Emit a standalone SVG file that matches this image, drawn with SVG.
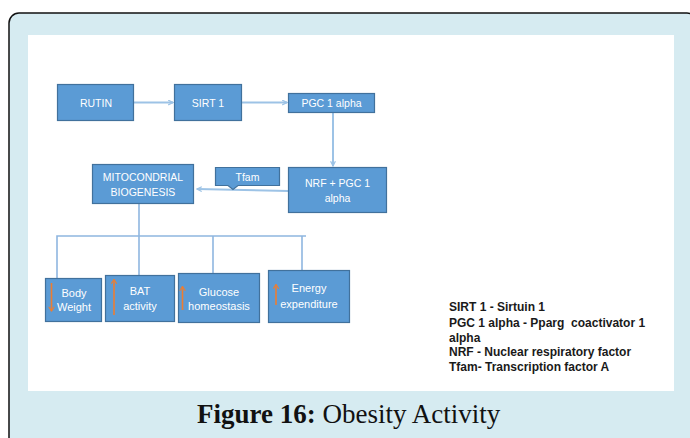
<svg xmlns="http://www.w3.org/2000/svg" width="690" height="438" viewBox="0 0 690 438">
  <defs>
    <style>
      .box { fill: #5b9bd5; stroke: #41719c; stroke-width: 1.2; }
      .lbl { font-family: "Liberation Sans", Arial, sans-serif; font-size: 10.5px; fill: #ffffff; text-anchor: middle; }
      .lbl2 { font-family: "Liberation Sans", Arial, sans-serif; font-size: 11px; fill: #ffffff; text-anchor: middle; }
      .conn { fill: none; stroke: #9dc3e6; stroke-width: 2; }
      .tree { fill: none; stroke: #8fb6e0; stroke-width: 1.6; }
      .trend { stroke: #ed7d31; stroke-width: 1.6; fill: none; }
      .legend { font-family: "Liberation Sans", Arial, sans-serif; font-size: 12px; font-weight: bold; fill: #1a1a1a; }
      .cap { font-family: "Liberation Serif", "Times New Roman", serif; font-size: 27px; fill: #111111; }
    </style>
    <marker id="arrow" viewBox="0 0 10 10" refX="9" refY="5" markerWidth="6" markerHeight="6" orient="auto" markerUnits="userSpaceOnUse">
      <path d="M1,1 L9,5 L1,9" fill="none" stroke="#9dc3e6" stroke-width="2"/>
    </marker>
    <marker id="orange" viewBox="0 0 10 10" refX="9" refY="5" markerWidth="7" markerHeight="7" orient="auto" markerUnits="userSpaceOnUse">
      <path d="M3,1 L9,5 L3,9" fill="none" stroke="#ed7d31" stroke-width="1.6"/>
    </marker>
  </defs>

  <!-- page frame and figure panel -->
  <rect x="9" y="13" width="688" height="440" rx="10" ry="10" fill="#d6ebf1" stroke="#111111" stroke-width="1.5"/>
  <rect x="28" y="35" width="646" height="356" fill="#ffffff"/>

  <!-- connectors -->
  <g id="connectors">
    <line class="conn" x1="134" y1="102.5" x2="173" y2="102.5" marker-end="url(#arrow)"/>
    <line class="conn" x1="242" y1="102.5" x2="287" y2="102.5" marker-end="url(#arrow)"/>
    <line class="conn" x1="333" y1="112" x2="333" y2="166" marker-end="url(#arrow)"/>
    <line class="conn" x1="288" y1="191" x2="197" y2="189" marker-end="url(#arrow)"/>
    <path class="tree" d="M139,203 V275"/>
    <path class="tree" d="M57,278 V236 H306"/>
    <path class="tree" d="M213,236 V273"/>
    <path class="tree" d="M302,236 V270.5"/>
  </g>

  <g id="rutin">
    <rect class="box" x="57.5" y="84.5" width="76" height="36"/>
    <text class="lbl" x="96" y="106.5">RUTIN</text>
  </g>
  <g id="sirt1">
    <rect class="box" x="174.5" y="84.5" width="67" height="36"/>
    <text class="lbl" x="208" y="106.5">SIRT 1</text>
  </g>
  <g id="pgc1alpha">
    <rect class="box" x="288.5" y="93.5" width="86" height="19"/>
    <text class="lbl" x="331.5" y="106.5">PGC 1 alpha</text>
  </g>
  <g id="nrf-pgc1">
    <rect class="box" x="288.5" y="167.5" width="98" height="45"/>
    <text class="lbl" x="337.5" y="187">NRF + PGC 1</text>
    <text class="lbl" x="337.5" y="202">alpha</text>
  </g>
  <g id="tfam">
    <path class="box" d="M215.5,167.5 H279.5 V185.5 H238 L233,189.5 L228,185.5 H215.5 Z"/>
    <text class="lbl" x="247.5" y="181">Tfam</text>
  </g>
  <g id="mito-biogenesis">
    <rect class="box" x="92.5" y="164.5" width="101" height="39"/>
    <text class="lbl" x="143" y="180.5">MITOCONDRIAL</text>
    <text class="lbl" x="143" y="196">BIOGENESIS</text>
  </g>

  <g id="body-weight">
    <rect class="box" x="45.5" y="278.5" width="56" height="43"/>
    <line class="trend" x1="51.5" y1="283" x2="51.5" y2="311" marker-end="url(#orange)"/>
    <text class="lbl2" x="74" y="296.5">Body</text>
    <text class="lbl2" x="74" y="310.5">Weight</text>
  </g>
  <g id="bat-activity">
    <rect class="box" x="105.5" y="275.5" width="69" height="46"/>
    <line class="trend" x1="114" y1="315" x2="114" y2="279.5" marker-end="url(#orange)"/>
    <text class="lbl2" x="140" y="294.5">BAT</text>
    <text class="lbl2" x="140" y="309.5">activity</text>
  </g>
  <g id="glucose-homeostasis">
    <rect class="box" x="178.5" y="273.5" width="81" height="49"/>
    <line class="trend" x1="182.5" y1="310" x2="182.5" y2="286.5" marker-end="url(#orange)"/>
    <text class="lbl2" x="219" y="295.5">Glucose</text>
    <text class="lbl2" x="219" y="310">homeostasis</text>
  </g>
  <g id="energy-expenditure">
    <rect class="box" x="268.5" y="270.5" width="81" height="52"/>
    <line class="trend" x1="276" y1="305" x2="276" y2="284.5" marker-end="url(#orange)"/>
    <text class="lbl2" x="309" y="292">Energy</text>
    <text class="lbl2" x="309" y="308">expenditure</text>
  </g>

  <!-- abbreviations -->
  <g id="legend">
    <text class="legend" x="449" y="310.5">SIRT 1 - Sirtuin 1</text>
    <text class="legend" x="449" y="326.5" xml:space="preserve">PGC 1 alpha - Pparg  coactivator 1</text>
    <text class="legend" x="449" y="341.5">alpha</text>
    <text class="legend" x="449" y="356">NRF - Nuclear respiratory factor</text>
    <text class="legend" x="449" y="370.5">Tfam- Transcription factor A</text>
  </g>

  <!-- caption -->
  <text class="cap" x="197" y="422.5"><tspan font-weight="bold">Figure 16:</tspan> Obesity Activity</text>
</svg>
